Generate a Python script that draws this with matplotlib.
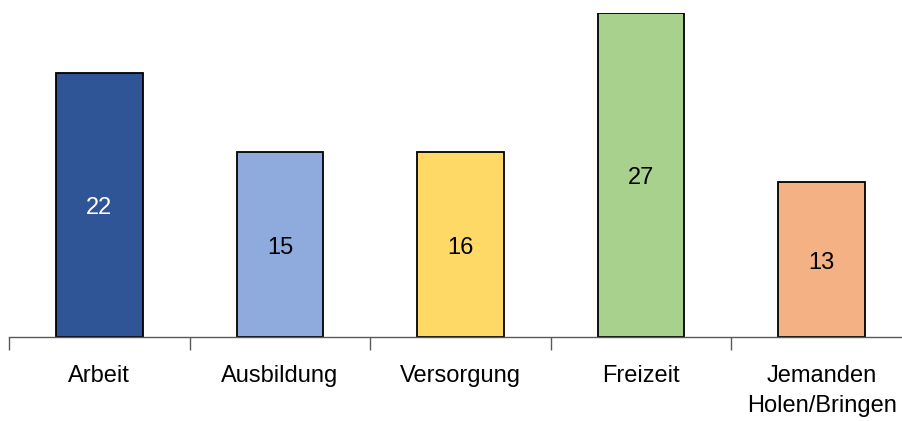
import numpy as np
import matplotlib.pyplot as plt

# Trip purposes (share in %)
categories = ["Arbeit", "Ausbildung", "Versorgung", "Freizeit", "Jemanden\nHolen/Bringen"]
values = [22.0, 15.4, 15.4, 27.0, 12.9]
value_labels = ["22", "15", "16", "27", "13"]
colors = ["#2F5597", "#8FAADC", "#FFD966", "#A9D18E", "#F4B183"]
label_colors = ["white", "black", "black", "black", "black"]

plt.rcParams["font.family"] = ["Liberation Sans", "DejaVu Sans"]

fig = plt.figure(figsize=(9.03, 4.21), dpi=100)
ax = fig.add_axes([9 / 903, 84 / 421, 903 / 903, 324 / 421])

x = np.arange(len(categories))
ax.bar(x, values, width=0.48, color=colors, edgecolor="black", linewidth=1.3)

for xi, v, lab, c in zip(x, values, value_labels, label_colors):
    ax.annotate(lab, (xi, v / 2), xytext=(0, -2.5), textcoords="offset points",
                ha="center", va="center", fontsize=17, color=c)

ax.set_xlim(-0.5, len(categories) - 0.5)
ax.set_ylim(0, 27)

for s in ["top", "right", "left"]:
    ax.spines[s].set_visible(False)
ax.spines["bottom"].set_color("#595959")
ax.spines["bottom"].set_linewidth(1.0)
ax.set_yticks([])

ax.set_xticks(x)
ax.set_xticklabels(categories, fontsize=17, linespacing=1.5)
ax.tick_params(axis="x", which="major", length=0, pad=20)
ax.set_xticks(np.arange(len(categories) + 1) - 0.5, minor=True)
ax.tick_params(axis="x", which="minor", length=9, width=1.0, color="#595959")

fig.savefig("out.png", dpi=100)
